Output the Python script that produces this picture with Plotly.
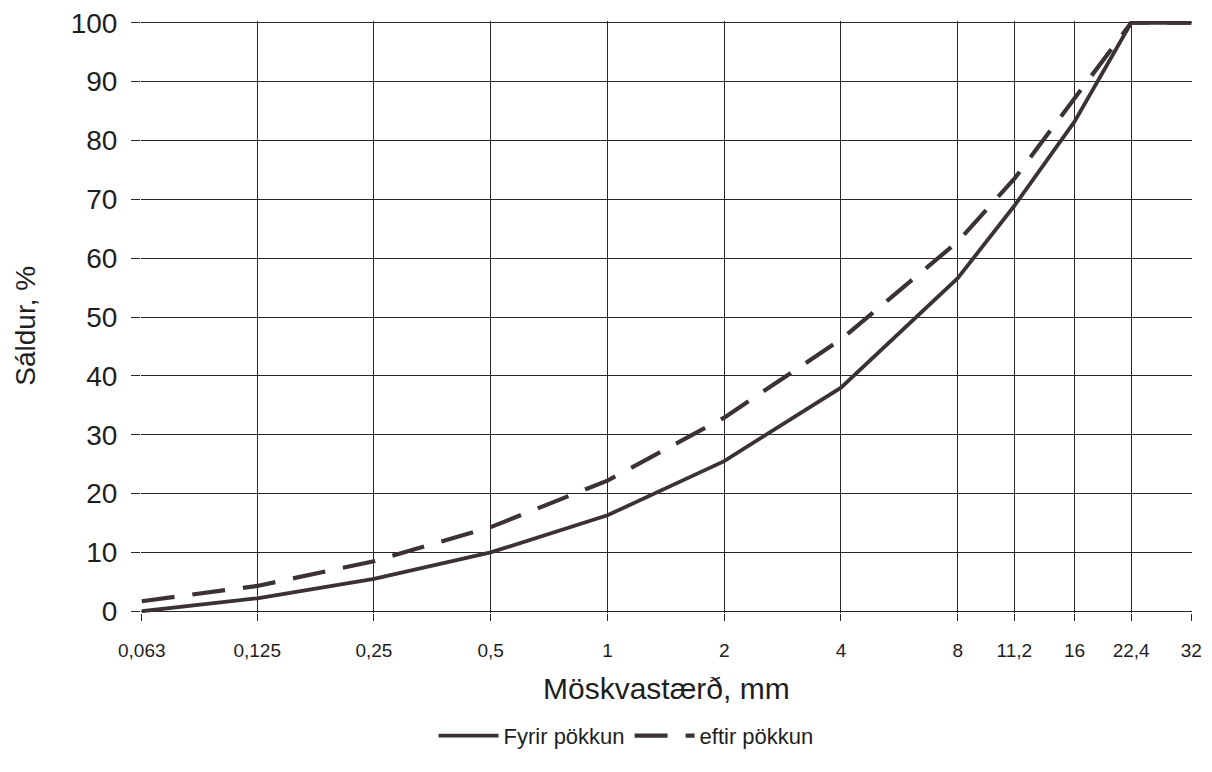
import math
import plotly.graph_objects as go

# Sieve sizes (mm) and their printed labels
sieve_mm = [0.063, 0.125, 0.25, 0.5, 1, 2, 4, 8, 11.2, 16, 22.4, 32]
sieve_labels = ["0,063", "0,125", "0,25", "0,5", "1", "2", "4", "8", "11,2", "16", "22,4", "32"]

# Percent passing, before and after compaction
fyrir_pokkun = [0, 2.2, 5.5, 10, 16.3, 25.5, 38, 56.6, 68.9, 83.2, 100, 100]
eftir_pokkun = [1.7, 4.3, 8.5, 14.3, 22.2, 32.9, 46.2, 62.8, 73.5, 87.0, 100, 100]

y_ticks = list(range(0, 101, 10))

LINE = "#3a3234"
GRID = "#262626"
TXT = "#1e1e1e"
FONT = "Liberation Sans, Arial, sans-serif"

fig = go.Figure()
fig.add_trace(go.Scatter(
    x=sieve_mm, y=fyrir_pokkun, mode="lines", name="Fyrir pökkun",
    line=dict(color=LINE, width=3.8),
))
fig.add_trace(go.Scatter(
    x=sieve_mm, y=eftir_pokkun, mode="lines", name="eftir pökkun",
    line=dict(color=LINE, width=4.2, dash="33px,18px"),
))

lo, hi = math.log10(sieve_mm[0]), math.log10(sieve_mm[-1])
fig.update_xaxes(
    type="log", range=[lo - 0.002, hi + 0.002],
    tickvals=sieve_mm, ticktext=sieve_labels,
    tickfont=dict(family=FONT, size=19, color=TXT),
    ticks="outside", ticklen=7, tickcolor=GRID, tickwidth=1.2,
    ticklabelstandoff=13, automargin=False,
    showgrid=True, gridcolor=GRID, gridwidth=1.2,
    zeroline=False, showline=False,
)
fig.update_yaxes(
    range=[-0.3, 100.3], tickvals=y_ticks,
    tickfont=dict(family=FONT, size=28, color=TXT),
    ticks="outside", ticklen=9, tickcolor=GRID, tickwidth=1.2,
    ticklabelstandoff=8, automargin=False,
    showgrid=True, gridcolor=GRID, gridwidth=1.2,
    zeroline=False, showline=False,
)

fig.add_annotation(
    text="Möskvastærð, mm", xref="paper", yref="paper",
    x=0.5, y=-0.128, xanchor="center", yanchor="middle", showarrow=False,
    font=dict(family=FONT, size=30, color=TXT),
)
fig.add_annotation(
    text="Sáldur, %", xref="paper", yref="paper",
    x=-0.110, y=0.486, xanchor="center", yanchor="middle", textangle=-90,
    showarrow=False, font=dict(family=FONT, size=28, color=TXT),
)

fig.update_layout(
    width=1212, height=772,
    margin=dict(l=141, r=20, t=21, b=159),
    paper_bgcolor="white", plot_bgcolor="white",
    showlegend=True,
    legend=dict(
        orientation="h", x=0.4615, xanchor="center", y=-0.172, yanchor="top",
        font=dict(family=FONT, size=22, color=TXT), bgcolor="rgba(0,0,0,0)",
        itemwidth=60,
    ),
)

fig.write_html("out.html")
